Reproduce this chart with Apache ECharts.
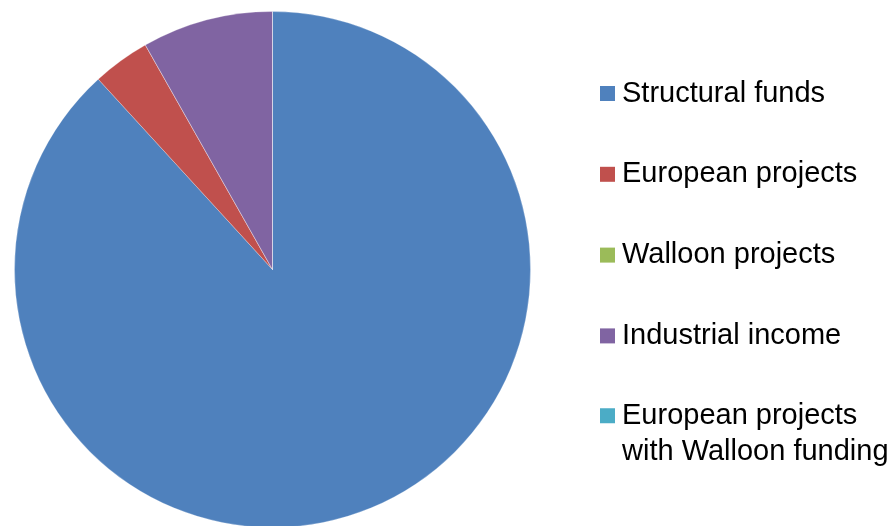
<!DOCTYPE html>
<html>
<head>
<meta charset="utf-8">
<script src="https://cdn.jsdelivr.net/npm/echarts@6/dist/echarts.min.js"></script>
<style>html,body{margin:0;padding:0;background:#fff;}#c{width:894px;height:526px;}</style>
</head>
<body>
<div id="c"></div>
<script>
const categories = ["Structural funds", "European projects", "Walloon projects", "Industrial income", "European projects\nwith Walloon funding"];
const values = [88.2, 3.6, 0, 8.2, 0];
const colors = ["#4F81BD", "#C0504D", "#9BBB59", "#8064A2", "#4BACC6"];

const legendText = {
  fontFamily: 'Liberation Sans, Arial, sans-serif',
  fontSize: 29,
  lineHeight: 36,
  color: '#000',
  padding: [0, 0, 0, 2]
};
const chart = echarts.init(document.getElementById('c'), null, {renderer: 'canvas'});
chart.setOption({
  animation: false,
  color: colors,
  legend: [{
    orient: 'vertical',
    left: 595,
    top: 70.5,
    icon: 'rect',
    itemWidth: 15,
    itemHeight: 15,
    itemGap: 44.8,
    selectedMode: false,
    itemStyle: {borderWidth: 0},
    data: categories.slice(0, 4),
    textStyle: legendText
  }, {
    orient: 'vertical',
    left: 595,
    top: 392.8,
    icon: 'path://M0,0L15,0L15,15L0,15Z M0,51L15,51Z',
    itemWidth: 15,
    itemHeight: 51,
    selectedMode: false,
    itemStyle: {borderWidth: 0},
    data: categories.slice(4),
    textStyle: legendText
  }],
  series: [{
    type: 'pie',
    center: [272.5, 269.5],
    radius: 258,
    startAngle: 90,
    clockwise: true,
    label: {show: false},
    labelLine: {show: false},
    emphasis: {disabled: true},
    itemStyle: {borderColor: 'rgba(255,255,255,0.5)', borderWidth: 0.5},
    data: categories.map((n, i) => ({name: n, value: values[i]}))
  }]
});
</script>
</body>
</html>
